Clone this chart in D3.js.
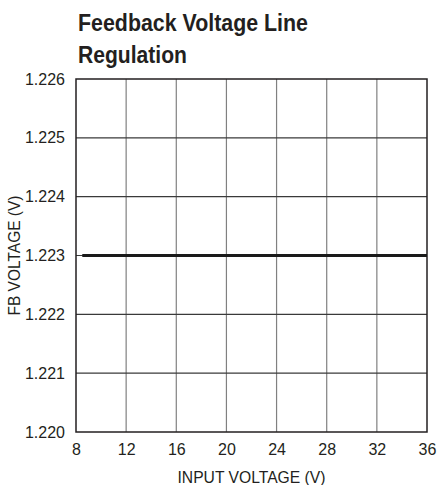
<!DOCTYPE html>
<html>
<head>
<meta charset="utf-8">
<script src="https://cdn.jsdelivr.net/npm/d3@7"></script>
<style>
  body { margin: 0; background: #fff; }
  text { font-family: "Liberation Sans", Arial, sans-serif; fill: #231f20; }
</style>
</head>
<body>
<div id="chart"></div>
<script>
// Data
const inputVoltage = [8.5, 12, 16, 20, 24, 28, 32, 36];
const fbVoltage = [1.223, 1.223, 1.223, 1.223, 1.223, 1.223, 1.223, 1.223];
const xTicks = [8, 12, 16, 20, 24, 28, 32, 36];
const yTicks = [1.220, 1.221, 1.222, 1.223, 1.224, 1.225, 1.226];

const W = 439, H = 485;
const margin = {top: 79, right: 12, bottom: 53, left: 76};
const width = W - margin.left - margin.right;
const height = H - margin.top - margin.bottom;

const svg = d3.select("#chart").append("svg")
    .attr("width", W)
    .attr("height", H);

// Title
svg.append("text")
    .attr("x", 78).attr("y", 31)
    .attr("font-size", 23).attr("font-weight", "bold")
    .attr("textLength", 230).attr("lengthAdjust", "spacingAndGlyphs")
    .text("Feedback Voltage Line");
svg.append("text")
    .attr("x", 78).attr("y", 63)
    .attr("font-size", 23).attr("font-weight", "bold")
    .attr("textLength", 109).attr("lengthAdjust", "spacingAndGlyphs")
    .text("Regulation");

const g = svg.append("g")
    .attr("transform", `translate(${margin.left},${margin.top})`);

const x = d3.scaleLinear().domain([8, 36]).range([0, width]);
const y = d3.scaleLinear().domain([1.220, 1.226]).range([height, 0]);

// Grid
g.selectAll(".vgrid")
    .data(xTicks.slice(1, -1))
    .enter().append("line")
    .attr("x1", d => x(d)).attr("x2", d => x(d))
    .attr("y1", 0).attr("y2", height)
    .attr("stroke", "#808080").attr("stroke-width", 1.2);

g.selectAll(".hgrid")
    .data(yTicks.slice(1, -1))
    .enter().append("line")
    .attr("x1", 0).attr("x2", width)
    .attr("y1", d => y(d)).attr("y2", d => y(d))
    .attr("stroke", "#3a3a3a").attr("stroke-width", 1.2);

// Frame
g.append("rect")
    .attr("width", width).attr("height", height)
    .attr("fill", "none")
    .attr("stroke", "#231f20").attr("stroke-width", 1.5);

// Data line
const line = d3.line()
    .x((d, i) => x(inputVoltage[i]))
    .y(d => y(d));

g.append("path")
    .datum(fbVoltage)
    .attr("d", line)
    .attr("fill", "none")
    .attr("stroke", "#1a1a1a")
    .attr("stroke-width", 3);

// Axes (labels only)
const xAxis = g.append("g")
    .attr("transform", `translate(0,${height})`)
    .call(d3.axisBottom(x).tickValues(xTicks).tickSize(0).tickPadding(12).tickFormat(d3.format("d")));
const yAxis = g.append("g")
    .call(d3.axisLeft(y).tickValues(yTicks).tickSize(0).tickPadding(11).tickFormat(d3.format(".3f")));

[xAxis, yAxis].forEach(a => {
    a.select(".domain").remove();
    a.selectAll("text")
        .attr("font-family", "Liberation Sans, Arial, sans-serif")
        .attr("font-size", 16)
        .attr("fill", "#231f20");
});

// Axis titles
g.append("text")
    .attr("x", width / 2).attr("y", height + 51)
    .attr("text-anchor", "middle")
    .attr("font-size", 16)
    .attr("textLength", 148).attr("lengthAdjust", "spacingAndGlyphs")
    .text("INPUT VOLTAGE (V)");

g.append("text")
    .attr("transform", "rotate(-90)")
    .attr("x", -height / 2).attr("y", -56)
    .attr("text-anchor", "middle")
    .attr("font-size", 16)
    .attr("textLength", 120).attr("lengthAdjust", "spacingAndGlyphs")
    .text("FB VOLTAGE (V)");
</script>
</body>
</html>
